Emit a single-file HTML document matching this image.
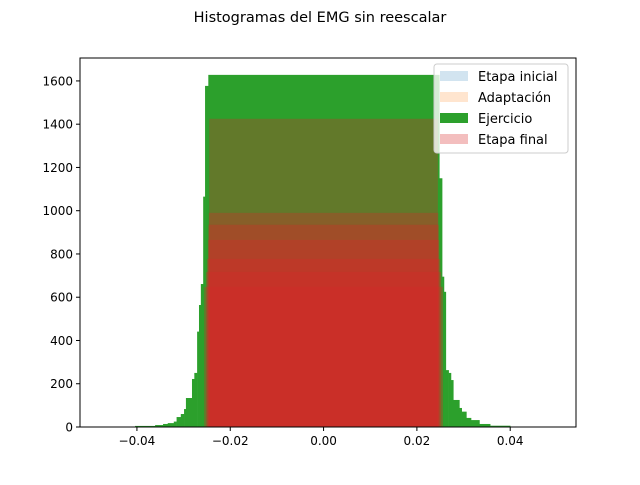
<!DOCTYPE html>
<html><head><meta charset="utf-8"><style>
body{margin:0;background:#fff;}
svg text{font-family:"DejaVu Sans","Liberation Sans",sans-serif;}
</style></head><body>
<svg id="chart" width="640" height="480" xmlns="http://www.w3.org/2000/svg">
<rect width="640" height="480" fill="#fff"/>
<text x="320" y="22" text-anchor="middle" font-size="14.5" fill="#000">Histogramas del EMG sin reescalar</text>
<g id="plot"></g>
<g id="axes"></g>
<g>
<rect x="434" y="64" width="134" height="89" rx="3" fill="#fff" fill-opacity="0.8" stroke="#ccc"/>
<rect x="440" y="71" width="28" height="10" fill="#1f77b4" fill-opacity="0.2"/>
<text x="478" y="81" font-size="13">Etapa inicial</text>
<rect x="440" y="92" width="28" height="10" fill="#ff7f0e" fill-opacity="0.2"/>
<text x="478" y="102" font-size="13">Adaptación</text>
<rect x="440" y="113" width="28" height="10" fill="#2ca02c"/>
<text x="478" y="123" font-size="13">Ejercicio</text>
<rect x="440" y="134" width="28" height="10" fill="#d62728" fill-opacity="0.3"/>
<text x="478" y="144" font-size="13">Etapa final</text>
</g>
</svg>
<script>
const greenEdges = [-0.0404,-0.0361,-0.0344,-0.0334,-0.0321,-0.0315,-0.0306,-0.0299,-0.0295,-0.0282,-0.0277,-0.0271,-0.0267,-0.0263,-0.0258,-0.0254,-0.0247,0.0248,0.0254,0.0258,0.0262,0.0268,0.0273,0.0278,0.0291,0.0296,0.0306,0.0316,0.0334,0.0357,0.0400];
const greenCounts = [5,9,14,18,25,46,60,83,134,222,250,441,564,661,1065,1577,1628,1150,695,625,263,250,217,125,88,71,42,32,14,6];
const redLayerHeights = [1425,990,935,865,777,717,648];
const redLayerLeft = [-0.0245,-0.0246,-0.0247,-0.0248,-0.0250,-0.0252,-0.0256];
const redLayerRight = [0.0245,0.0246,0.0247,0.0248,0.0250,0.0252,0.0256];
const xTicks = [-0.04,-0.02,0.00,0.02,0.04];
const xTickLabels = ["\u22120.04","\u22120.02","0.00","0.02","0.04"];
const yTicks = [0,200,400,600,800,1000,1200,1400,1600];

const X0=80,X1=576,Y0=427,Y1=58;
const xMin=-0.0522,xMax=0.0541,yMin=0,yMax=1706;
function xs(v){return X0+(v-xMin)/(xMax-xMin)*(X1-X0);}
function ys(v){return Y0-(v-yMin)/(yMax-yMin)*(Y0-Y1);}
const NS="http://www.w3.org/2000/svg";
const plot=document.getElementById('plot');
const axes=document.getElementById('axes');
function mk(tag,attrs,parent){const e=document.createElementNS(NS,tag);for(const k in attrs)e.setAttribute(k,attrs[k]);parent.appendChild(e);return e;}

for(let i=0;i<greenCounts.length;i++){
  const r=mk('rect',{x:xs(greenEdges[i]),y:ys(greenCounts[i]),width:xs(greenEdges[i+1])-xs(greenEdges[i])+0.3,height:Y0-ys(greenCounts[i]),fill:'#2ca02c'},plot);
  
  
}
for(let i=0;i<redLayerHeights.length;i++){
  const r=mk('rect',{x:xs(redLayerLeft[i]),y:ys(redLayerHeights[i]),width:xs(redLayerRight[i])-xs(redLayerLeft[i]),height:Y0-ys(redLayerHeights[i]),fill:'#d62728','fill-opacity':0.32},plot);
  
  
}
const frame=mk('rect',{x:X0,y:Y1,width:X1-X0,height:Y0-Y1,fill:'none',stroke:'#000','stroke-width':1},axes);


xTicks.forEach((t,i)=>{
  const x=xs(t);
  mk('line',{x1:x,x2:x,y1:Y0,y2:Y0+4,stroke:'#000'},axes);
  const tx=mk('text',{x:x,y:Y0+18,'text-anchor':'middle','font-size':12},axes);
  tx.textContent=xTickLabels[i];
  
  
});
yTicks.forEach(t=>{
  const y=ys(t);
  mk('line',{x1:X0-4,x2:X0,y1:y,y2:y,stroke:'#000'},axes);
  const tx=mk('text',{x:X0-7,y:y+4.5,'text-anchor':'end','font-size':12},axes);
  tx.textContent=String(t);
  
  
});
</script>
</body></html>
